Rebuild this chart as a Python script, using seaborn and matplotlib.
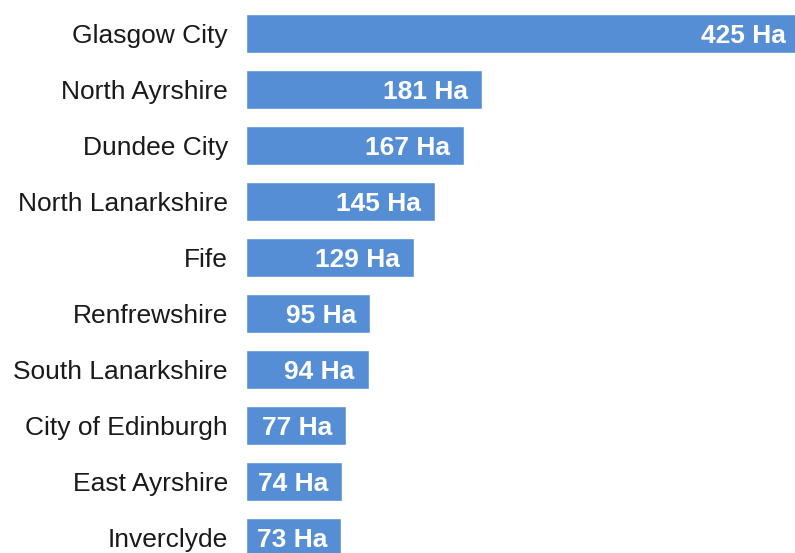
import pandas as pd
import matplotlib.pyplot as plt
import seaborn as sns

## Data (hectares of vacant/derelict land by council)

councils = ['Glasgow City', 'North Ayrshire', 'Dundee City', 'North Lanarkshire',
            'Fife', 'Renfrewshire', 'South Lanarkshire', 'City of Edinburgh',
            'East Ayrshire', 'Inverclyde']
hectares = [425, 181, 167, 145, 129, 95, 94, 77, 74, 73]

df = pd.DataFrame({'council': councils, 'ha': hectares})

sns.set_style('white')
plt.rcParams['font.family'] = ['Liberation Sans', 'DejaVu Sans']

fig = plt.figure(figsize=(7.95, 5.53), dpi=100)
ax = fig.add_axes([246 / 795, 0, 1 - 246 / 795, 1])

sns.barplot(data=df, x='ha', y='council', color='#558ED5', saturation=1,
            width=0.705, ax=ax)

# labels sit inside the bar end, right aligned
labels = ax.bar_label(ax.containers[0], labels=[f'{v} Ha' for v in hectares],
                      padding=-10, color='white', fontsize=19, fontweight='bold')
for t in labels:
    t.set_ha('right')
    t.set_va('center_baseline')
    t.set_annotation_clip(False)

ax.set_xlim(0, 421)
ax.set_ylim(9.28, -0.595)
ax.set_xlabel('')
ax.set_ylabel('')
ax.set_xticks([])
ax.tick_params(axis='y', length=0, pad=13, labelsize=19, labelcolor='#1a1a1a')
sns.despine(ax=ax, left=True, bottom=True)

plt.savefig('out.png', dpi=100)
